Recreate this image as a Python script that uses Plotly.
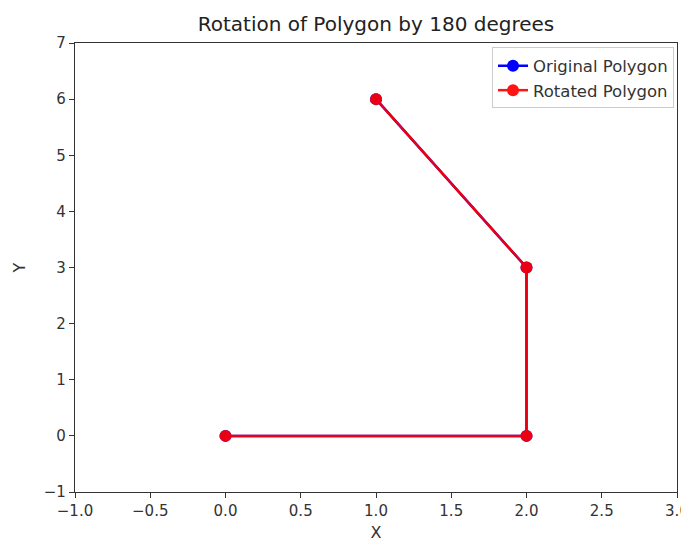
import plotly.graph_objects as go

orig_x = [1, 2, 2, 0]
orig_y = [6, 3, 0, 0]
rot_x = [1, 2, 2, 0]
rot_y = [6, 3, 0, 0]
x_ticks = [-1.0, -0.5, 0.0, 0.5, 1.0, 1.5, 2.0, 2.5, 3.0]
y_ticks = [-1, 0, 1, 2, 3, 4, 5, 6, 7]

FONT = "DejaVu Sans"
fig = go.Figure()
fig.add_trace(go.Scatter(x=orig_x, y=orig_y, mode="lines+markers", name="Original Polygon",
                         line=dict(color="#0000ff", width=2.5), marker=dict(color="#0000ff", size=12)))
fig.add_trace(go.Scatter(x=rot_x, y=rot_y, mode="lines+markers", name="Rotated Polygon",
                         line=dict(color="#ff0000", width=2.5), marker=dict(color="#ff0000", size=12),
                         opacity=0.92))

axis_common = dict(showgrid=False, zeroline=False, showline=True, linecolor="#333333", linewidth=1.2,
                   mirror=True, ticks="outside", ticklen=5, tickcolor="#333333", automargin=False,
                   ticklabeloverflow="allow",
                   tickfont=dict(family=FONT, size=15, color="#333333"))
fig.update_xaxes(range=[-1, 3], tickvals=x_ticks, ticktext=[f"{v:.1f}".replace("-", "\u2212") for v in x_ticks],
                 title=dict(text="X", font=dict(family=FONT, size=16, color="#333333"), standoff=7),
                 **axis_common)
fig.update_yaxes(range=[-1, 7], tickvals=y_ticks, ticktext=[str(v).replace("-", "\u2212") for v in y_ticks],
                 title=dict(text="Y", font=dict(family=FONT, size=16, color="#333333"), standoff=14),
                 **axis_common)
fig.update_layout(
    width=689, height=542, autosize=False,
    margin=dict(l=67, r=20, t=35, b=58, autoexpand=False),
    plot_bgcolor="white", paper_bgcolor="white",
    title=dict(text="Rotation of Polygon by 180 degrees", xref="paper", x=0.5, xanchor="center",
               y=0.97, yanchor="middle",
               font=dict(family=FONT, size=20, color="#222222")),
    legend=dict(x=0.995, y=0.99, xanchor="right", yanchor="top", bgcolor="rgba(255,255,255,0.8)",
                bordercolor="#cccccc", borderwidth=1, tracegroupgap=0,
                font=dict(family=FONT, size=16.5, color="#333333")),
)
fig.write_html("out.html")
